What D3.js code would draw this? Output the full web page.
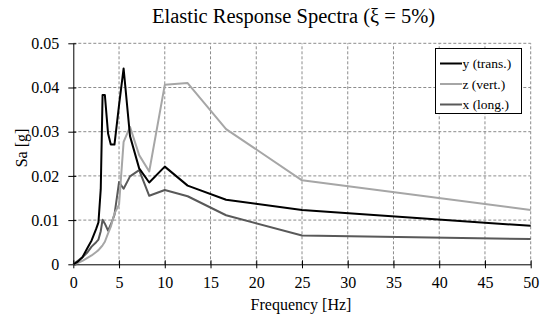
<!DOCTYPE html>
<html>
<head>
<meta charset="utf-8">
<script src="https://cdn.jsdelivr.net/npm/d3@7"></script>
<style>
  body { margin: 0; background: #fff; }
  svg text { font-family: "Liberation Serif", "DejaVu Serif", serif; }
</style>
</head>
<body>
<div id="chart"></div>
<script>
const FREQ = [0, 0.5, 1, 1.5, 2, 2.5, 2.75, 3, 3.2, 3.45, 3.8, 4.1, 4.5, 5.0, 5.5, 6.2, 7.2, 8.3, 10, 12.5, 16.7, 25, 50];

const Y_TRANS = [0, 0.0006, 0.0016, 0.0035, 0.0054, 0.0080, 0.0095, 0.0170, 0.0383, 0.0383, 0.0296, 0.0271, 0.0271,
  0.0360, 0.0443, 0.0290, 0.0217, 0.0185, 0.0221, 0.0178, 0.0146, 0.0123, 0.0087];
const Z_VERT = [0, 0.0003, 0.0008, 0.0014, 0.0020, 0.0028, 0.0032, 0.0038, 0.0043, 0.0051, 0.0070, 0.0085, 0.0115,
  0.0135, 0.0277, 0.0311, 0.0247, 0.0210, 0.0406, 0.0410, 0.0306, 0.0190, 0.0123];
const X_LONG = [0, 0.0008, 0.0016, 0.0026, 0.0040, 0.0050, 0.0056, 0.0075, 0.0101, 0.0092, 0.0076, 0.0090, 0.0112,
  0.0186, 0.0171, 0.0199, 0.0213, 0.0155, 0.0168, 0.0154, 0.0111, 0.0065, 0.0057];

const X_TICKS = [0, 5, 10, 15, 20, 25, 30, 35, 40, 45, 50];
const Y_TICKS = [0, 0.01, 0.02, 0.03, 0.04, 0.05];

const SERIES = [
  { name: "y (trans.)", values: Y_TRANS, color: "#000000" },
  { name: "z (vert.)",  values: Z_VERT,  color: "#a6a6a6" },
  { name: "x (long.)",  values: X_LONG,  color: "#595959" }
];

const FONT = "Liberation Serif, DejaVu Serif, serif";
const width = 544, height = 318;
const m = { top: 43.3, right: 13.3, bottom: 53.7, left: 73.3 };

const svg = d3.select("#chart").append("svg")
  .attr("width", width)
  .attr("height", height)
  .attr("font-family", FONT);

const x = d3.scaleLinear().domain([0, 50]).range([m.left, width - m.right]);
const y = d3.scaleLinear().domain([0, 0.05]).range([height - m.bottom, m.top]);

// dashed grid
const grid = svg.append("g").attr("stroke", "#8c8c8c").attr("stroke-dasharray", "3,2").attr("stroke-width", 1);
X_TICKS.slice(1).forEach(t => {
  grid.append("line")
    .attr("x1", x(t)).attr("x2", x(t))
    .attr("y1", y(0)).attr("y2", y(0.05));
});
Y_TICKS.slice(1).forEach(t => {
  grid.append("line")
    .attr("x1", x(0)).attr("x2", x(50))
    .attr("y1", y(t)).attr("y2", y(t));
});

// axes (cross ticks)
const xAxis = svg.append("g")
  .attr("transform", `translate(0,${y(0)})`)
  .call(d3.axisBottom(x).tickValues(X_TICKS).tickFormat(d3.format("d")).tickSize(4).tickSizeOuter(0).tickPadding(8));
xAxis.attr("font-family", FONT).attr("font-size", 16);
xAxis.selectAll(".tick line").attr("y1", -4).attr("stroke", "#000");
xAxis.select(".domain").attr("stroke", "#000");
xAxis.selectAll("text").attr("fill", "#000");

const yAxis = svg.append("g")
  .attr("transform", `translate(${x(0)},0)`)
  .call(d3.axisLeft(y).tickValues(Y_TICKS).tickFormat(d => d === 0 ? "0" : d3.format(".2f")(d))
    .tickSize(5).tickSizeOuter(0).tickPadding(9));
yAxis.attr("font-family", FONT).attr("font-size", 16);
yAxis.selectAll(".tick line").attr("x1", 3).attr("stroke", "#000");
yAxis.select(".domain").attr("stroke", "#000");
yAxis.selectAll("text").attr("fill", "#000");

// lines
const line = d3.line()
  .x((d, i) => x(FREQ[i]))
  .y(d => y(d));

SERIES.slice().reverse().forEach(s => {
  svg.append("path")
    .datum(s.values)
    .attr("fill", "none")
    .attr("stroke", s.color)
    .attr("stroke-width", 2)
    .attr("stroke-linejoin", "round")
    .attr("d", line);
});

// titles
svg.append("text")
  .attr("x", 293.5)
  .attr("y", 23)
  .attr("text-anchor", "middle")
  .attr("font-size", 20.5)
  .text("Elastic Response Spectra (\u03BE = 5%)");

svg.append("text")
  .attr("x", 301)
  .attr("y", 310)
  .attr("text-anchor", "middle")
  .attr("font-size", 16)
  .text("Frequency [Hz]");

svg.append("text")
  .attr("transform", `translate(27,148) rotate(-90)`)
  .attr("text-anchor", "middle")
  .attr("font-size", 16)
  .text("Sa [g]");

// legend
const lg = svg.append("g").attr("transform", "translate(435.5,48.5)");
lg.append("rect")
  .attr("width", 86).attr("height", 65)
  .attr("fill", "#fff").attr("stroke", "#000").attr("stroke-width", 1);
SERIES.forEach((s, i) => {
  const cy = 15 + i * 20.5;
  lg.append("line")
    .attr("x1", 4.5).attr("x2", 26.5)
    .attr("y1", cy).attr("y2", cy)
    .attr("stroke", s.color).attr("stroke-width", 2);
  lg.append("text")
    .attr("x", 27).attr("y", cy + 4.5)
    .attr("font-size", 13.5)
    .text(s.name);
});
</script>
</body>
</html>
